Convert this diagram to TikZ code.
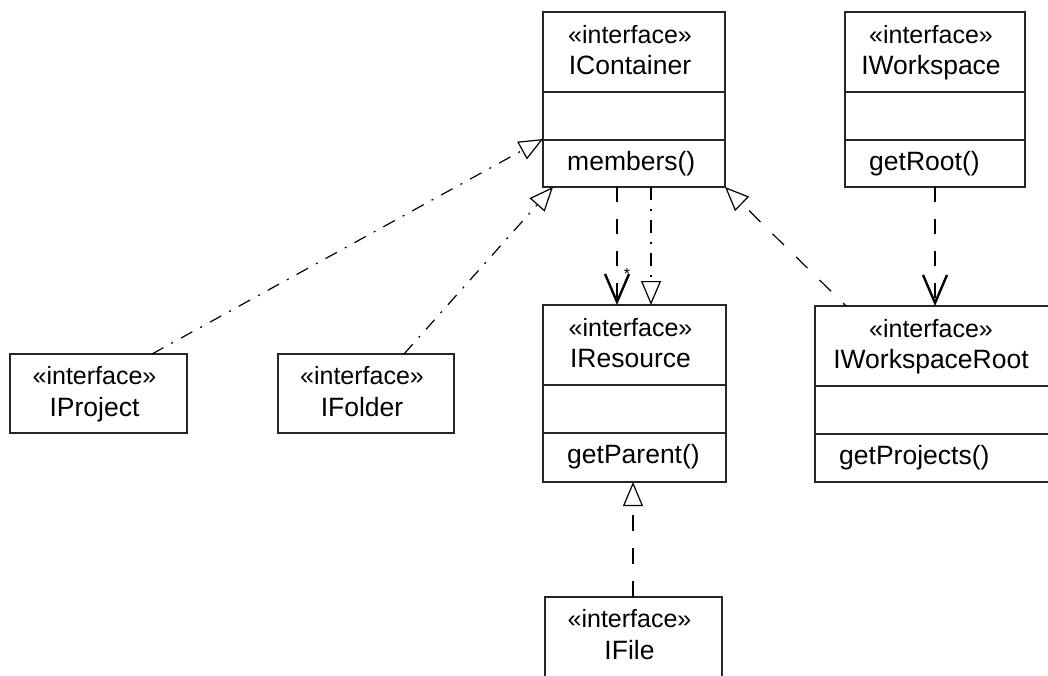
\documentclass[tikz,border=0pt]{standalone}
\usepackage{fontspec}
\setmainfont{Liberation Sans}
\usetikzlibrary{arrows.meta,calc}

\tikzset{
  classbox/.style={draw=black!85, line width=1.6pt, anchor=north west, inner sep=0pt, outer sep=0pt},
  divider/.style={draw=black!85, line width=1.6pt},
  stereo/.style={font=\fontsize{25}{27}\selectfont, anchor=base, inner sep=0pt},
  cname/.style={font=\fontsize{26.5}{28}\selectfont, anchor=base, inner sep=0pt},
  meth/.style={font=\fontsize{26.5}{28}\selectfont, anchor=base west, inner sep=0pt},
  link/.style={draw=black, line width=1.2pt},
  hollow/.style={-{Triangle[open, length=24pt, width=20pt, line width=1.2pt]}},
  realize/.style={link, hollow, dash pattern=on 16pt off 17pt},
  realizedot/.style={link, hollow, dash pattern=on 13pt off 9pt on 2pt off 9pt},
  navig/.style={link, dash pattern=on 15pt off 17pt, -{Straight Barb[length=28pt, width=24pt, line width=2.4pt]}},
  mult/.style={font=\fontsize{16}{16}\selectfont, inner sep=0pt},
}

% class with name, attribute and operation compartments
\newcommand\fullclass[6]{% #1 node name, #2 top-left, #3 width, #4 height, #5 class name, #6 operation
  \node[classbox, minimum width=#3pt, minimum height=#4pt] (#1) at (#2) {};
  \draw[divider] ($(#1.north west)+(0,80)$) -- ($(#1.north east)+(0,80)$);
  \draw[divider] ($(#1.north west)+(0,128)$) -- ($(#1.north east)+(0,128)$);
  \node[stereo] (#1-st) at ($(#1.north)+(-4,31)$) {«interface»};
  \node[cname] (#1-nm) at ($(#1.north)+(-4,62)$) {#5};
  \node[meth] (#1-op) at ($(#1.north west)+(24,158)$) {#6};
}
% class with the name compartment only
\newcommand\smallclass[5]{% #1 node name, #2 top-left, #3 width, #4 height, #5 class name
  \node[classbox, minimum width=#3pt, minimum height=#4pt] (#1) at (#2) {};
  \node[stereo] (#1-st) at ($(#1.north)+(-4,30)$) {«interface»};
  \node[cname] (#1-nm) at ($(#1.north)+(-4,62)$) {#5};
}

\begin{document}
\begin{tikzpicture}[x=1pt, y=-1pt]
  \useasboundingbox (0,0) rectangle (1048,675);
  \clip (0,0) rectangle (1048,675);

  \fullclass{cont}{543,12}{182}{175}{IContainer}{members()}
  \fullclass{ws}{845,12}{180}{175}{IWorkspace}{getRoot()}
  \fullclass{res}{543,305}{183}{177}{IResource}{getParent()}
  \fullclass{root}{815,306}{240}{176}{IWorkspaceRoot}{getProjects()}
  \smallclass{proj}{10,354}{177}{79}{IProject}
  \smallclass{folder}{278,354}{176}{79}{IFolder}
  \smallclass{file}{545,597}{177}{110}{IFile}

  % generalisations towards IContainer
  \draw[realizedot] ($(proj.north west)+(142,0)$) -- ($(cont.north west)+(0,127)$);
  \draw[realizedot] ($(folder.north west)+(126,0)$) -- ($(cont.south west)+(10,0)$);
  \draw[realize, dash phase=12pt] ($(root.north west)+(31,0)$) -- (cont.south east);

  % IContainer and IResource
  \draw[navig] ($(cont.south west)+(74,0)$) -- ($(res.north west)+(74,0)$);
  \node[mult] (many) at (627,274) {*};
  \draw[realizedot] ($(cont.south west)+(108,0)$) -- ($(res.north west)+(108,0)$);

  % IWorkspace navigates to its root
  \draw[navig] ($(ws.south west)+(90,0)$) -- ($(root.north west)+(120,0)$);

  % IFile specialises IResource
  \draw[realize] ($(file.north west)+(88,0)$) -- ($(res.south west)+(90,0)$);
\end{tikzpicture}
\end{document}
